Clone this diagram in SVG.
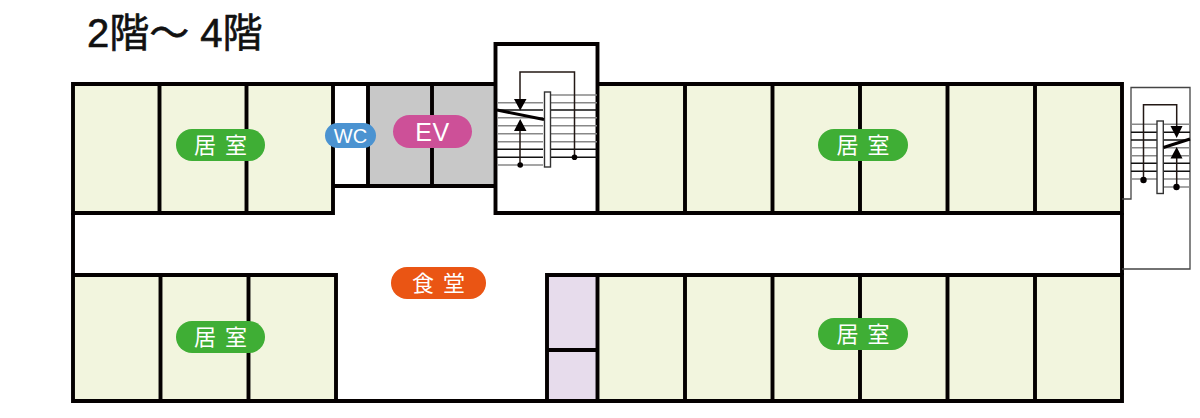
<svg xmlns="http://www.w3.org/2000/svg" width="1200" height="418" viewBox="0 0 1200 418">
<style>
.wall{fill:none;stroke:#040000;stroke-width:3.9}
.room{fill:#f2f5de}
.lilac{fill:#e7dcec}
.gray{fill:#c8c8c8}
.thin{fill:none;stroke:#231815;stroke-width:1.5}
.tg{stroke:#888;stroke-width:1.4}
.tb{stroke:#111;stroke-width:1.4}
.lab{font-family:"Noto Sans CJK JP","Noto Sans",sans-serif;fill:#fff;text-anchor:middle;font-size:22px;word-spacing:4px}
.lat{font-family:"Liberation Sans","Noto Sans",sans-serif;fill:#fff;text-anchor:middle}
.title{font-family:"Liberation Sans","Noto Sans CJK JP",sans-serif;font-size:40px;fill:#111;stroke:#111;stroke-width:.6}
</style>
<rect width="1200" height="418" fill="#fff"/>
<g id="rooms">
<rect class="room" x="73" y="84" width="260" height="129"/>
<rect class="room" x="597" y="84" width="525" height="129"/>
<rect class="room" x="73" y="275" width="263" height="126"/>
<rect class="room" x="597" y="275" width="525" height="126"/>
<rect class="lilac" x="547" y="275" width="50" height="126"/>
<rect class="gray" x="368" y="84" width="127" height="102"/>
</g>
<g id="walls">
<path class="wall" d="M333 84H73V213H333ZM159.500 84V213M246.500 84V213"/>
<path class="wall" d="M333 84H495M333 186H495M368 84V186M432 84V186"/>
<path class="wall" d="M597 84H1122V213H495M685 84V213M772.500 84V213M860 84V213M947.500 84V213M1035 84V213"/>
<path class="wall" d="M495.500 44H597.500V213H495.500ZM1122 213V275"/>
<path class="wall" d="M73 213V275H336V401H73V275M160.500 275V401M248.500 275V401"/>
<path class="wall" d="M336 401H1122V275H547V401M597.500 275V401M547 350H597M685 275V401M772.500 275V401M860 275V401M947.500 275V401M1035 275V401"/>
</g>
<g id="stair-center">
<path class="tg" d="M551 95H597M497 102.700H543M551 102.700H597M497 117.700H543M551 117.700H597M497 125.700H543M551 125.700H597M497 133.700H543M551 133.700H597M497 141.700H543M551 141.700H597M497 165H543"/>
<path class="tb" d="M497 110H543M551 110H597M497 149.300H543M551 149.300H597M497 157.300H543M551 157.300H597"/>
<rect x="544.500" y="92" width="6" height="75" fill="#fff" stroke="#333" stroke-width="1.400"/>
<path d="M497 110L544 119.500" fill="none" stroke="#040000" stroke-width="3"/>
<path class="thin" d="M574.500 157V72H520V100M520 165V130"/>
<path d="M514 99H526.500L520.200 110.500ZM514 131H526.500L520.200 119Z" fill="#040000"/>
<circle cx="574.500" cy="157.300" r="2.800" fill="#040000"/>
<circle cx="520.200" cy="165" r="2.800" fill="#040000"/>
</g>
<g id="stair-right">
<path d="M1122 199H1131V87.500H1190V269H1122" fill="none" stroke="#444" stroke-width="1.300"/>
<path class="tg" d="M1131 124.300H1157M1164 124.300H1190M1131 147.700H1157M1164 147.700H1190M1131 155.700H1157M1164 155.700H1190M1131 179H1157M1164 179H1190M1164 187H1190"/>
<path class="tb" d="M1131 132.300H1157M1164 132.300H1190M1131 140H1157M1164 140H1190M1131 163.300H1157M1164 163.300H1190M1131 171.300H1157M1164 171.300H1190"/>
<rect x="1157" y="121" width="6.300" height="72.500" fill="#fff" stroke="#333" stroke-width="1.400"/>
<path d="M1163.500 147.500L1190 139" fill="none" stroke="#040000" stroke-width="3"/>
<path class="thin" d="M1143.500 180V104.700H1176.700V127M1176.700 187V158"/>
<path d="M1170.500 126H1182.500L1176.700 138ZM1170.500 158.500H1182.500L1176.700 147Z" fill="#040000"/>
<circle cx="1143.500" cy="180" r="3.200" fill="#040000"/>
<circle cx="1176.500" cy="187" r="3.200" fill="#040000"/>
</g>
<g id="title"><text class="title" x="87" y="47">2階～ 4階</text></g>
<g id="label-room-tl"><rect x="176" y="129" width="89" height="32" rx="16" fill="#3fae35"/><text class="lab" x="220.500" y="153">居 室</text></g>
<g id="label-room-tr"><rect x="818" y="129" width="90" height="32" rx="16" fill="#3fae35"/><text class="lab" x="863" y="153">居 室</text></g>
<g id="label-room-bl"><rect x="176" y="321" width="89" height="32" rx="16" fill="#3fae35"/><text class="lab" x="220.500" y="345">居 室</text></g>
<g id="label-room-br"><rect x="818" y="318" width="90" height="32" rx="16" fill="#3fae35"/><text class="lab" x="863" y="342">居 室</text></g>
<g id="label-dining"><rect x="391" y="267" width="95" height="32" rx="16" fill="#ea5514"/><text class="lab" x="438.500" y="291">食 堂</text></g>
<g id="label-ev"><rect x="393" y="115" width="79" height="33" rx="16.500" fill="#cd5098"/><text class="lat" x="432.500" y="141" font-size="25" letter-spacing=".5">EV</text></g>
<g id="label-wc"><rect x="325" y="123" width="51" height="25" rx="12.500" fill="#4b93d1"/><text class="lat" x="350.500" y="143" font-size="20">WC</text></g>
</svg>
